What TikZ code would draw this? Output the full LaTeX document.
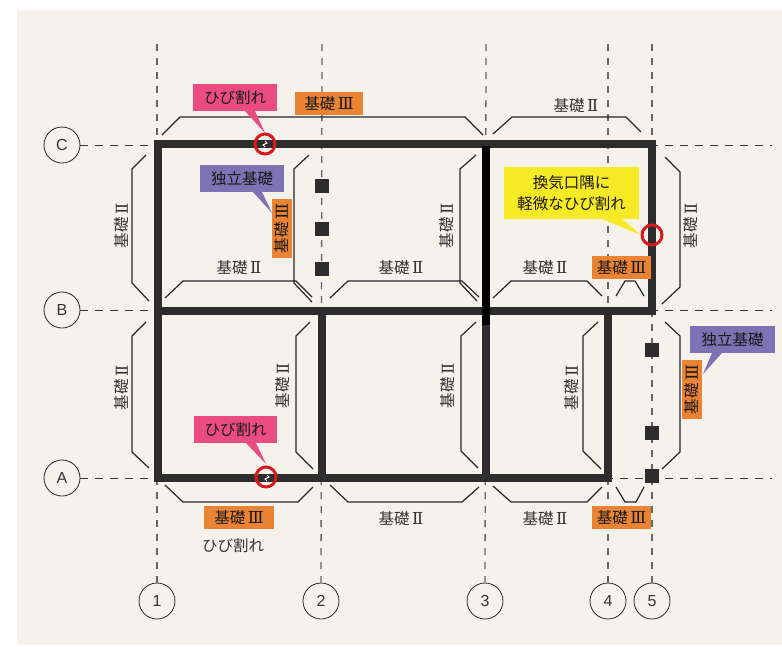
\documentclass[tikz,border=0pt]{standalone}
\usepackage{fontspec}
\setmainfont{Noto Sans CJK JP}
\newfontfamily\latinfont{Liberation Sans}
\newfontfamily\numfont{DejaVu Serif}
\newcommand{\nII}{\,{\numfont\fontsize{16.5}{16.5}\selectfont Ⅱ}}
\newcommand{\nIII}{\,{\numfont\fontsize{16.5}{16.5}\selectfont Ⅲ}}
\definecolor{bgc}{HTML}{F5F2EC}
\definecolor{wallc}{HTML}{2D2D2D}
\definecolor{pinkc}{HTML}{EA4C82}
\definecolor{orangec}{HTML}{EA8333}
\definecolor{bluec}{HTML}{7C72B4}
\definecolor{yellowc}{HTML}{F6E925}
\definecolor{redc}{HTML}{D71920}
\tikzset{
  axisnode/.style={circle,draw=black!85,line width=.8pt,fill=bgc,minimum size=36pt,inner sep=0pt,font=\latinfont\fontsize{16}{16}\selectfont,text=black!80},
  gridh/.style={draw=black!80,line width=1pt,dash pattern=on 8pt off 7pt},
  gridv/.style={draw=black!60,line width=1.3pt,dash pattern=on 7pt off 7pt},
  wall/.style={draw=wallc,line width=7.6pt,line cap=rect},
  bracket/.style={draw=black!85,line width=1.2pt},
  lbl/.style={font=\fontsize{15.5}{17}\selectfont,text=black!80,inner sep=0pt},
  colbox/.style={inner sep=0pt,text=black!90,font=\fontsize{15.5}{21}\selectfont,align=center},
  ring/.style={draw=redc,line width=3pt},
  pier/.style={fill=wallc,draw=none,minimum size=14pt,inner sep=0pt}
}
\newcommand{\boxlabel}[7]{% name, fill, x1, y1, x2, y2, text
  \fill[#2] (#3,#4) rectangle (#5,#6);
  \node[colbox] (#1) at ({(#3+#5)/2},{(#4+#6)/2}) {#7};
}
\newcommand{\vboxlabel}[7]{%
  \fill[#2] (#3,#4) rectangle (#5,#6);
  \node[colbox,rotate=90] (#1) at ({(#3+#5)/2},{(#4+#6)/2}) {#7};
}
\begin{document}
\begin{tikzpicture}[x=1pt,y=-1pt]
\useasboundingbox (0,0) rectangle (782,646);
\fill[white] (0,0) rectangle (782,646);
\fill[bgc] (17,10) rectangle (782,645);

% axis nodes
\node[axisnode] (axC) at (62,145) {C};
\node[axisnode] (axB) at (62,310) {B};
\node[axisnode] (axA) at (62,478) {A};
\node[axisnode] (ax1) at (157,601) {1};
\node[axisnode] (ax2) at (321,601) {2};
\node[axisnode] (ax3) at (485,601) {3};
\node[axisnode] (ax4) at (608,601) {4};
\node[axisnode] (ax5) at (652,601) {5};
\coordinate (endC) at (772,145);
\coordinate (endB) at (772,310);
\coordinate (endA) at (772,478);
\coordinate (top1) at (157,44);
\coordinate (top2) at (322,44);
\coordinate (top3) at (486,44);
\coordinate (top4) at (608,44);
\coordinate (top5) at (652,44);
\draw[gridh] (axC) -- (endC);
\draw[gridh] (axB) -- (endB);
\draw[gridh] (axA) -- (endA);
\draw[gridv] (top1) -- (ax1);
\draw[gridv] (top2) -- (ax2);
\draw[gridv] (top3) -- (ax3);
\draw[gridv] (top4) -- (ax4);
\draw[gridv] (top5) -- (ax5);

% walls
\draw[wall] (158,144) -- (652,144) -- (652,311) -- (158,311);
\draw[wall] (158,144) -- (158,478) -- (608,478) -- (608,311);
\draw[wall] (322,311) -- (322,478);
\draw[wall] (486,311) -- (486,478);
\draw[draw=black,line width=7.6pt] (486,146) -- (486,325);

% piers
\foreach \n/\x/\y in {p1/322/186,p2/322/229,p3/322/269,p4/652/350,p5/652/433,p6/652/476}
  \node[pier] (\n) at (\x,\y) {};

% brackets
\draw[bracket] (162,135) -- (180,117) -- (465,117) -- (483,135);
\draw[bracket] (493,134) -- (512,117) -- (626,117) -- (641,132);
\draw[bracket] (146,155) -- (132,169) -- (132,283) -- (149,301);
\draw[bracket] (309,155) -- (294,169) -- (294,283) -- (312,302);
\draw[bracket] (165,298) -- (183,281) -- (296,281) -- (312,297);
\draw[bracket] (330,298) -- (348,281) -- (462,281) -- (479,297);
\draw[bracket] (476,155) -- (460,169) -- (460,283) -- (477,301);
\draw[bracket] (493,298) -- (511,281) -- (587,281) -- (602,296);
\draw[bracket] (616,296) -- (625,281) -- (635,281) -- (644,296);
\draw[bracket] (665,157) -- (680,172) -- (680,287) -- (662,304);
\draw[bracket] (146,322) -- (132,336) -- (132,452) -- (149,468);
\draw[bracket] (310,322) -- (296,336) -- (296,452) -- (313,469);
\draw[bracket] (476,322) -- (461,336) -- (461,451) -- (478,468);
\draw[bracket] (598,322) -- (583,336) -- (583,451) -- (601,469);
\draw[bracket] (665,322) -- (680,336) -- (680,452) -- (662,469);
\draw[bracket] (165,485) -- (183,502) -- (298,502) -- (313,487);
\draw[bracket] (330,485) -- (348,502) -- (462,502) -- (479,487);
\draw[bracket] (493,486) -- (511,502) -- (587,502) -- (602,487);
\draw[bracket] (616,487) -- (625,502) -- (636,502) -- (644,487);

% plain labels
\node[lbl] (t1) at (576,106) {基礎\nII};
\node[lbl,rotate=90] (t2) at (122,226) {基礎\nII};
\node[lbl] (t3) at (239,268) {基礎\nII};
\node[lbl] (t4) at (401,268) {基礎\nII};
\node[lbl,rotate=90] (t5) at (447,226) {基礎\nII};
\node[lbl] (t6) at (545,268) {基礎\nII};
\node[lbl,rotate=90] (t7) at (691,226) {基礎\nII};
\node[lbl,rotate=90] (t8) at (122,388) {基礎\nII};
\node[lbl,rotate=90] (t9) at (283,386) {基礎\nII};
\node[lbl,rotate=90] (t10) at (448,386) {基礎\nII};
\node[lbl,rotate=90] (t11) at (572,388) {基礎\nII};
\node[lbl] (t12) at (401,519) {基礎\nII};
\node[lbl] (t13) at (545,519) {基礎\nII};
\node[lbl] (t14) at (233,546) {ひび割れ};

% cracks and rings
\draw[white,line width=1pt] (265,141) -- (267,143) -- (263,145) -- (265,147);
\draw[white,line width=1pt] (267,475) -- (269,477) -- (265,479) -- (267,481);
\node[circle,ring,minimum size=20pt,inner sep=0pt] (r1) at (265,144) {};
\node[circle,ring,minimum size=20pt,inner sep=0pt] (r2) at (266,477) {};
\node[circle,ring,minimum size=20pt,inner sep=0pt] (r3) at (652,235) {};

% orange tags
\boxlabel{o1}{orangec}{295}{92}{363}{115}{基礎\nIII}
\boxlabel{o2}{orangec}{592}{256}{651}{279}{基礎\nIII}
\boxlabel{o3}{orangec}{204}{506}{274}{529}{基礎\nIII}
\boxlabel{o4}{orangec}{592}{506}{651}{529}{基礎\nIII}
\vboxlabel{o5}{orangec}{272}{199}{292}{258}{基礎\nIII}
\vboxlabel{o6}{orangec}{682}{360}{702}{419}{基礎\nIII}

% callouts
\fill[pinkc] (245,111) -- (265,133) -- (255,111) -- cycle;
\boxlabel{c1}{pinkc}{193}{84}{277}{111}{ひび割れ}
\fill[pinkc] (246,443) -- (266,464) -- (256,443) -- cycle;
\boxlabel{c2}{pinkc}{194}{416}{277}{443}{ひび割れ}
\fill[bluec] (253,192) -- (272,213) -- (262,192) -- cycle;
\boxlabel{c3}{bluec}{200}{165}{284}{192}{独立基礎}
\fill[bluec] (712,353) -- (703,374) -- (722,353) -- cycle;
\boxlabel{c4}{bluec}{690}{326}{775}{353}{独立基礎}
\fill[yellowc] (602,219) -- (641,235) -- (622,219) -- cycle;
\boxlabel{c5}{yellowc}{504}{167}{639}{219}{換気口隅に\\軽微なひび割れ}
\end{tikzpicture}
\end{document}
